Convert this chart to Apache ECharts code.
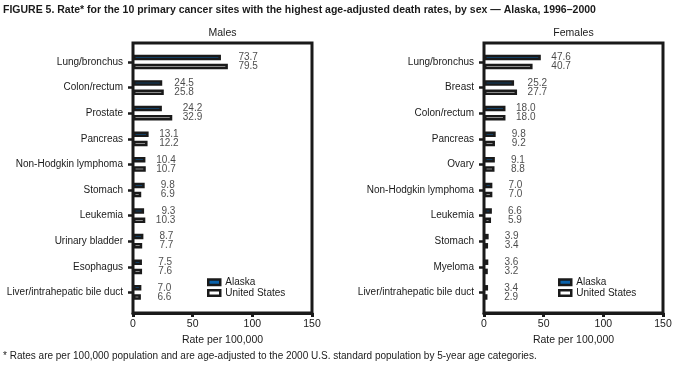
<!DOCTYPE html>
<html><head><meta charset="utf-8">
<script src="https://cdn.jsdelivr.net/npm/echarts@6/dist/echarts.min.js"></script>
<style>html,body{margin:0;padding:0;background:#fff}#c{width:681px;height:374px}</style>
</head><body><div id="c"></div>
<script>
const maleSites = ['Lung/bronchus','Colon/rectum','Prostate','Pancreas','Non-Hodgkin lymphoma','Stomach','Leukemia','Urinary bladder','Esophagus','Liver/intrahepatic bile duct'];
const maleAlaska = [73.7,24.5,24.2,13.1,10.4,9.8,9.3,8.7,7.5,7.0];
const maleUS = [79.5,25.8,32.9,12.2,10.7,6.9,10.3,7.7,7.6,6.6];
const femaleSites = ['Lung/bronchus','Breast','Colon/rectum','Pancreas','Ovary','Non-Hodgkin lymphoma','Leukemia','Stomach','Myeloma','Liver/intrahepatic bile duct'];
const femaleAlaska = [47.6,25.2,18.0,9.8,9.1,7.0,6.6,3.9,3.6,3.4];
const femaleUS = [40.7,27.7,18.0,9.2,8.8,7.0,5.9,3.4,3.2,2.9];
const xMin = 0, xMax = 150, xStep = 50;
const seriesNames = ['Alaska','United States'];
const panelTitles = ['Males','Females'];

const FONT = 'Liberation Sans, Arial, Helvetica, sans-serif';
const INK = '#1a1a1a';
const BLUE = '#0a62ab';
const panels = [
  {sites: maleSites, a: maleAlaska, u: maleUS, left: 133},
  {sites: femaleSites, a: femaleAlaska, u: femaleUS, left: 484}
];
const W = 179, TOP = 43, H = 270, ITOP = 49.2, IH = 256;

const grid = [], xAxis = [], yAxis = [], series = [], legend = [], title = [];
title.push({text: 'FIGURE 5. Rate* for the 10 primary cancer sites with the highest age-adjusted death rates, by sex \u2014 Alaska, 1996\u20132000',
  left: 3, top: 5, padding: 0, textStyle: {fontFamily: FONT, fontSize: 10.5, fontWeight: 'bold', color: INK}});
title.push({text: '* Rates are per 100,000 population and are age-adjusted to the 2000 U.S. standard population by 5-year age categories.',
  left: 3, top: 351, padding: 0, textStyle: {fontFamily: FONT, fontSize: 10, fontWeight: 'normal', color: INK}});

panels.forEach((p, k) => {
  const g0 = grid.length;
  grid.push({left: p.left, top: TOP, width: W, height: H, show: true, borderColor: INK, borderWidth: 3, backgroundColor: 'transparent'});
  grid.push({left: p.left, top: ITOP, width: W, height: IH, show: false});
  const xo = xAxis.length;
  xAxis.push({type: 'value', gridIndex: g0, min: xMin, max: xMax, interval: xStep,
    axisLine: {show: true, lineStyle: {color: INK, width: 3}},
    axisTick: {show: true, inside: false, length: 4, lineStyle: {color: INK, width: 3}},
    splitLine: {show: false},
    axisLabel: {fontFamily: FONT, fontSize: 10.5, color: INK, margin: 6},
    name: 'Rate per 100,000', nameLocation: 'middle', nameGap: 18,
    nameTextStyle: {fontFamily: FONT, fontSize: 10.5, color: INK}});
  xAxis.push({type: 'value', gridIndex: g0 + 1, min: xMin, max: xMax, show: false});
  const yo = yAxis.length;
  yAxis.push({type: 'value', gridIndex: g0, show: false});
  yAxis.push({type: 'category', gridIndex: g0 + 1, data: p.sites, inverse: true,
    axisLine: {show: false},
    axisTick: {show: true, alignWithLabel: true, length: 5, lineStyle: {color: INK, width: 2.5}},
    axisLabel: {fontFamily: FONT, fontSize: 10, color: INK, margin: 10}});
  const common = {type: 'bar', xAxisIndex: xo + 1, yAxisIndex: yo + 1, barWidth: 5.5, barGap: '67%', silent: true};
  series.push(Object.assign({}, common, {name: seriesNames[0], data: p.a,
    itemStyle: {color: BLUE, borderColor: INK, borderWidth: 2.5}}));
  series.push(Object.assign({}, common, {name: seriesNames[1], data: p.u,
    itemStyle: {color: '#fff', borderColor: INK, borderWidth: 2.5}}));
  series.push({type: 'scatter', xAxisIndex: xo + 1, yAxisIndex: yo + 1, symbolSize: 0, silent: true,
    data: p.a.map((v, i) => [Math.max(v, p.u[i]), i]),
    label: {show: true, position: 'right', distance: 30, align: 'right', verticalAlign: 'middle',
      formatter: (q) => '{v|' + p.a[q.dataIndex].toFixed(1) + '}\n{v|' + p.u[q.dataIndex].toFixed(1) + '}',
      rich: {v: {align: 'right', fontFamily: FONT, fontSize: 10, lineHeight: 9, color: INK}}}});
  legend.push({orient: 'vertical', left: p.left + 74, top: 277, padding: 0, itemWidth: 12, itemHeight: 5.5, itemGap: 0,
    icon: 'rect', selectedMode: false,
    textStyle: {fontFamily: FONT, fontSize: 10, color: INK, lineHeight: 10.6, padding: [0, 0, 0, 0]},
    data: [{name: seriesNames[0], itemStyle: {color: BLUE, borderColor: INK, borderWidth: 2.5}},
           {name: seriesNames[1], itemStyle: {color: '#fff', borderColor: INK, borderWidth: 2.5}}]});
  title.push({text: panelTitles[k], left: p.left + W / 2, textAlign: 'center', top: 28, padding: 0,
    textStyle: {fontFamily: FONT, fontSize: 10.5, fontWeight: 'normal', color: INK}});
});

const chart = echarts.init(document.getElementById('c'), null, {renderer: 'canvas'});
chart.setOption({animation: false, backgroundColor: '#fff', title, grid, xAxis, yAxis, series, legend});
</script></body></html>
